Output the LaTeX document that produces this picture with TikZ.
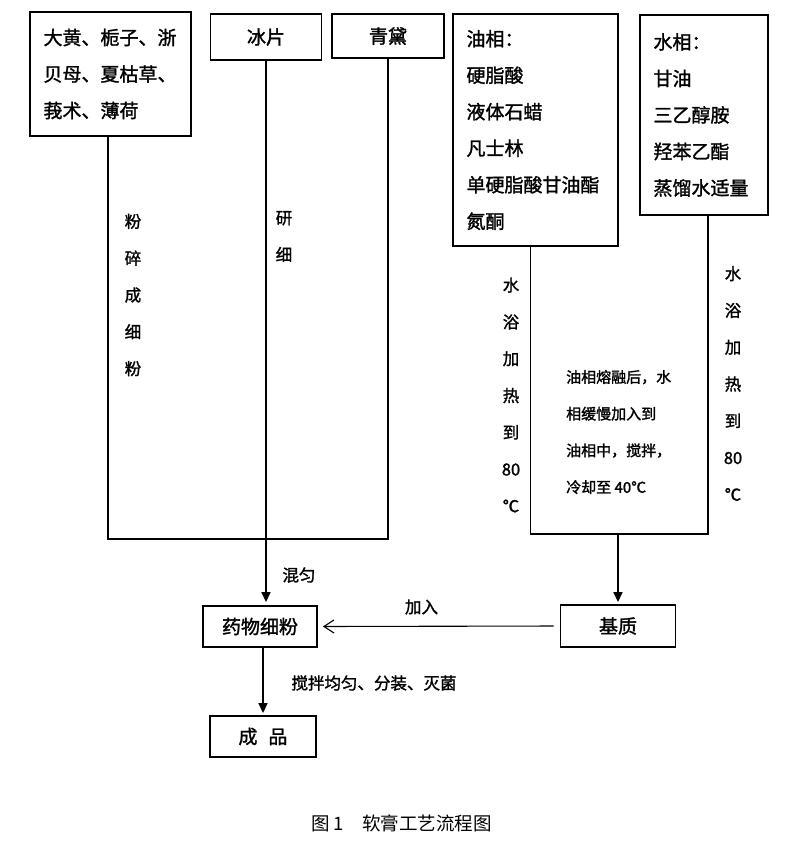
\documentclass[tikz,border=0pt]{standalone}
\usepackage{fontspec}
\setmainfont{Noto Sans CJK SC}[FakeBold=1.5]
\newfontfamily\capfont{Noto Sans CJK SC}
\usetikzlibrary{arrows.meta}
\begin{document}
\begin{tikzpicture}[x=1pt,y=-1pt,
    box/.style={draw,line width=1.9pt,inner sep=0pt,font=\fontsize{19}{36.5}\selectfont},
    list/.style={box,align=left},
    link/.style={line width=1.6pt},
    flow/.style={link,-{Triangle[width=9pt,length=10pt]}},
    note/.style={font=\fontsize{16.5}{36.8}\selectfont,align=center,inner sep=0pt}]
    \useasboundingbox (0,0) rectangle (801,847);

    % raw materials
    \node[list,minimum width=161,minimum height=124,text width=134] (herb) at (110.5,74) {大黄、栀子、浙\\贝母、夏枯草、\\莪术、薄荷};
    \node[box,minimum width=111,minimum height=46] (bing) at (266,37) {冰片};
    \node[box,minimum width=112,minimum height=44] (qing) at (388,36) {青黛};
    \node[list,minimum width=165,minimum height=232,text width=138] (oil) at (535.5,130) {油相：\\硬脂酸\\液体石蜡\\凡士林\\单硬脂酸甘油酯\\氮酮};
    \node[list,minimum width=128,minimum height=200,text width=101] (water) at (704,115) {水相：\\甘油\\三乙醇胺\\羟苯乙酯\\蒸馏水适量};

    % products
    \node[box,minimum width=114,minimum height=41] (powder) at (260,626.5) {药物细粉};
    \node[box,minimum width=115,minimum height=42] (base) at (618,626) {基质};
    \node[box,minimum width=106,minimum height=41] (product) at (263,736.5) {成\hspace{11pt}品};

    % powder branch
    \draw[link] ([xshift=-2.5]herb.south) -- ++(0,402) -| (qing.south);
    \draw[flow,shorten >=3] (bing.south) -- (bing.south |- powder.north);

    % base branch
    \coordinate (melt) at (618,533);
    \draw[link] ([xshift=-5]oil.south) -- ++(0,287) -| ([xshift=4]water.south);
    \draw[flow,shorten >=2] (melt) -- (base.north);
    \draw[line width=1.1pt,-{Straight Barb[length=10pt,width=13pt]},shorten >=5,shorten <=6] (base.west) -- (powder.east);
    \draw[flow,shorten >=2] (product.north |- powder.south) -- (product.north);

    % step labels
    \node[note] (grind) at (133,295) {粉\\碎\\成\\细\\粉};
    \node[note] (fine) at (284,236.5) {研\\细};
    \node[note] (heatL) at (511,395) {水\\浴\\加\\热\\到\\80\\℃};
    \node[note] (heatR) at (733,383.5) {水\\浴\\加\\热\\到\\80\\℃};
    \node[note,anchor=west,align=left,font=\fontsize{15}{36.7}\selectfont] (emul) at (566,432) {油相熔融后，水\\相缓慢加入到\\油相中，搅拌，\\冷却至 40℃};
    \node[note] (mix) at (299,575) {混匀};
    \node[note] (add) at (421.5,607) {加入};
    \node[note] (pack) at (374,683) {搅拌均匀、分装、灭菌};

    \node[font=\capfont\fontsize{18.5}{20}\selectfont] (title) at (401.5,823) {图 1\quad 软膏工艺流程图};
\end{tikzpicture}
\end{document}
